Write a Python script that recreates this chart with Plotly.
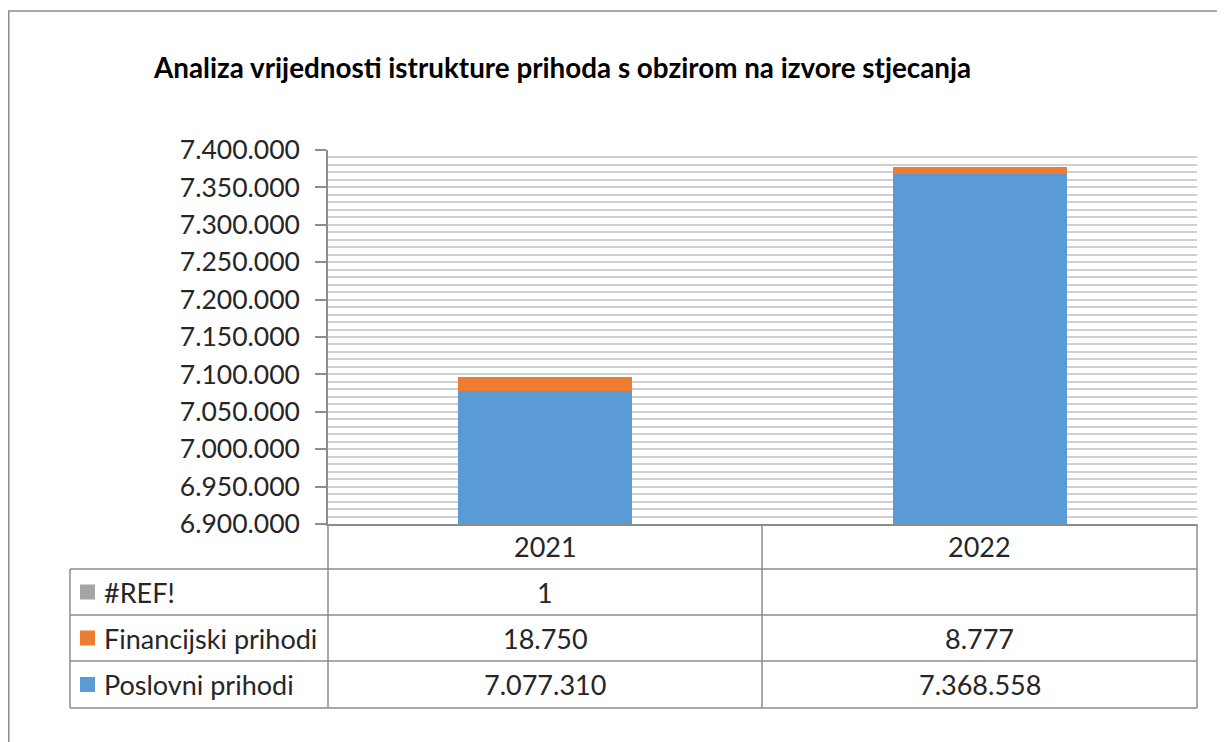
import plotly.graph_objects as go

# ---- data ----
categories = ["2021", "2022"]
series_names = ["#REF!", "Financijski prihodi", "Poslovni prihodi"]
ref_vals = [1, None]
financijski = [18750, 8777]
poslovni = [7077310, 7368558]
colors = {"#REF!": "#A5A5A5", "Financijski prihodi": "#ED7D31", "Poslovni prihodi": "#5B9BD5"}
title = "Analiza vrijednosti istrukture prihoda s obzirom na izvore stjecanja"
y_min, y_max, y_major, y_minor = 6900000, 7400000, 50000, 10000

# page body adds an 8px margin; work in screenshot pixels and subtract it
OFF = 8
W, H = 1225 - OFF, 742 - OFF
L, R, T, B = 328, 1197, 150, 524  # plot area in screenshot pixels
FONT = "Lato"
TXT = "#262626"
LINE = "#8c8c8c"


def px(x):
    return (x - L) / (R - L)


def py(y):
    return (B - y) / (B - T)


def fmt(v):
    if v is None:
        return ""
    return f"{v:,}".replace(",", ".")


xs = list(range(len(categories)))
fig = go.Figure()
fig.add_trace(go.Bar(x=xs, y=poslovni, name="Poslovni prihodi", marker_color=colors["Poslovni prihodi"],
                     width=0.4, marker_line_width=0))
fig.add_trace(go.Bar(x=xs, y=financijski, name="Financijski prihodi", marker_color=colors["Financijski prihodi"],
                     width=0.4, marker_line_width=0))
fig.add_trace(go.Bar(x=xs, y=ref_vals, name="#REF!", marker_color=colors["#REF!"],
                     width=0.4, marker_line_width=0))

shapes = []
annotations = []

# outer chart border (cropped on right/bottom)
shapes.append(dict(type="rect", xref="paper", yref="paper", x0=px(8.8), x1=px(1260), y0=py(11), y1=py(780),
                   line=dict(color=LINE, width=1.5), layer="below"))

# data table
row_y = [524, 569, 615, 661, 708]
col_x = [70, 328, 762, 1197]
for yy in row_y[1:]:
    shapes.append(dict(type="line", xref="paper", yref="paper", x0=px(col_x[0]), x1=px(col_x[-1]),
                       y0=py(yy), y1=py(yy), line=dict(color=LINE, width=1.5)))
shapes.append(dict(type="line", xref="paper", yref="paper", x0=px(col_x[0]), x1=px(col_x[0]),
                   y0=py(row_y[1]), y1=py(row_y[-1]), line=dict(color=LINE, width=1.5)))
for cx in col_x[1:]:
    shapes.append(dict(type="line", xref="paper", yref="paper", x0=px(cx), x1=px(cx),
                       y0=py(row_y[0]), y1=py(row_y[-1]), line=dict(color=LINE, width=1.5)))

cell_font = dict(family=FONT, size=27, color=TXT)
for j, c in enumerate(categories):
    xc = (col_x[j + 1] + col_x[j + 2]) / 2
    yc = (row_y[0] + row_y[1]) / 2
    annotations.append(dict(text=c, x=px(xc), y=py(yc), xref="paper", yref="paper",
                            showarrow=False, xanchor="center", yanchor="middle", font=cell_font))

rows = [("#REF!", ref_vals), ("Financijski prihodi", financijski), ("Poslovni prihodi", poslovni)]
for i, (name, vals) in enumerate(rows):
    yc = (row_y[i + 1] + row_y[i + 2]) / 2
    shapes.append(dict(type="rect", xref="paper", yref="paper", x0=px(80), x1=px(95),
                       y0=py(yc + 7.5), y1=py(yc - 7.5), fillcolor=colors[name], line=dict(width=0)))
    annotations.append(dict(text=name, x=px(102), y=py(yc), xref="paper", yref="paper",
                            showarrow=False, xanchor="left", yanchor="middle", font=cell_font))
    for j, v in enumerate(vals):
        xc = (col_x[j + 1] + col_x[j + 2]) / 2
        annotations.append(dict(text=fmt(v), x=px(xc), y=py(yc), xref="paper", yref="paper",
                                showarrow=False, xanchor="center", yanchor="middle", font=cell_font))

annotations.append(dict(text="<b>" + title + "</b>", x=px(151), y=py(67), xref="paper", yref="paper",
                        showarrow=False, xanchor="left", yanchor="middle",
                        font=dict(family=FONT, size=27.8, color="#000000")))

tickvals = list(range(y_min, y_max + 1, y_major))
fig.update_layout(
    width=W, height=H,
    margin=dict(l=L - OFF, r=W - (R - OFF), t=T - OFF, b=H - (B - OFF), pad=0),
    paper_bgcolor="white", plot_bgcolor="white",
    barmode="stack", showlegend=False, bargap=0,
    separators=",.",
    shapes=shapes, annotations=annotations,
    xaxis=dict(range=[-0.5, len(categories) - 0.5], showticklabels=False, showgrid=False,
               zeroline=False, showline=True, linecolor=LINE, linewidth=1.5, ticks=""),
    yaxis=dict(range=[y_min, y_max], tickvals=tickvals, ticktext=[fmt(v) for v in tickvals],
               showgrid=True, gridcolor="#d0d0d0", gridwidth=1.5,
               minor=dict(dtick=y_minor, tick0=y_min, showgrid=True, gridcolor="#d0d0d0", gridwidth=1.5, ticks=""),
               showline=True, linecolor=LINE, linewidth=1.5, ticks="outside", ticklen=11,
               tickcolor=LINE, tickwidth=1.5, zeroline=False,
               tickfont=dict(family=FONT, size=26.5, color=TXT), ticklabelstandoff=10),
)

fig.write_html("out.html")
